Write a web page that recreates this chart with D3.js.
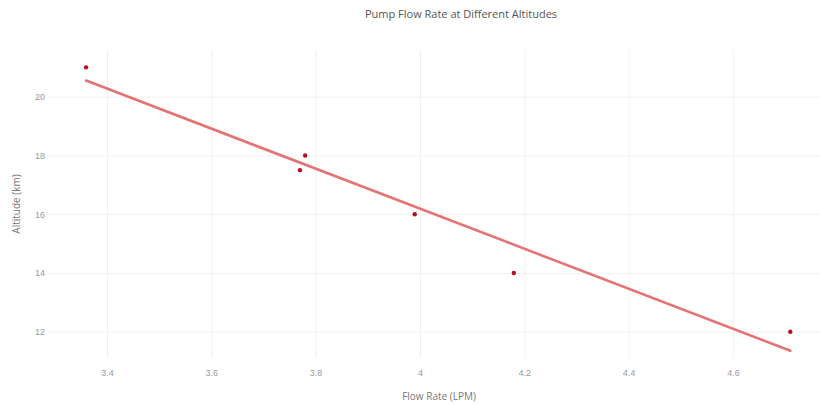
<!DOCTYPE html>
<html>
<head>
<meta charset="utf-8">
<script src="https://cdn.jsdelivr.net/npm/d3@7"></script>
<style>
  html, body { margin: 0; padding: 0; background: #fff; }
  svg { display: block; font-family: "Open Sans", sans-serif; }
</style>
</head>
<body>
<svg id="chart" width="820" height="405"></svg>
<script>
// ---- data ----
const flowRate = [3.36, 3.77, 3.78, 3.99, 4.18, 4.71];
const altitude = [21, 17.5, 18, 16, 14, 12];
const trendFlow = [3.36, 4.71];
const trendAltitude = [20.55, 11.35];
const xTicks = [3.4, 3.6, 3.8, 4, 4.2, 4.4, 4.6];
const yTicks = [12, 14, 16, 18, 20];
const titleText = "Pump Flow Rate at Different Altitudes";
const xTitle = "Flow Rate (LPM)";
const yTitle = "Altitude (km)";

// ---- layout ----
const W = 820, H = 405;
const plot = { left: 48, right: 831, top: 50, bottom: 358 };

const svg = d3.select("#chart");

const x = d3.scaleLinear().domain([3.287, 4.788]).range([plot.left, plot.right]);
const y = d3.scaleLinear().domain([11.105, 21.59]).range([plot.bottom, plot.top]);

// gridlines
const gx = svg.append("g").attr("transform", `translate(0,${plot.bottom})`)
  .call(d3.axisBottom(x).tickValues(xTicks).tickSize(-(plot.bottom - plot.top)).tickFormat(d => d3.format("")(d)).tickPadding(12));
gx.select(".domain").remove();
gx.selectAll(".tick line").attr("stroke", "#f0f0f0").attr("stroke-width", 1);
gx.selectAll(".tick text").attr("fill", "#999").attr("font-size", "9px");

const gy = svg.append("g").attr("transform", `translate(${plot.left},0)`)
  .call(d3.axisLeft(y).tickValues(yTicks).tickSize(-(plot.right - plot.left)).tickPadding(3));
gy.select(".domain").remove();
gy.selectAll(".tick line").attr("stroke", "#f0f0f0").attr("stroke-width", 1);
gy.selectAll(".tick text").attr("fill", "#999").attr("font-size", "9px");

// trend line
const line = d3.line().x((d, i) => x(trendFlow[i])).y(d => y(d));
svg.append("path")
  .datum(trendAltitude)
  .attr("d", line)
  .attr("fill", "none")
  .attr("stroke", "#e57373")
  .attr("stroke-width", 2.6)
  .attr("stroke-linecap", "round");

// points
svg.append("g").selectAll("circle")
  .data(flowRate)
  .join("circle")
  .attr("cx", d => x(d))
  .attr("cy", (d, i) => y(altitude[i]))
  .attr("r", 2.2)
  .attr("fill", "#b5111b");

// titles
svg.append("text")
  .attr("x", 461).attr("y", 18)
  .attr("text-anchor", "middle")
  .attr("font-size", "11px")
  .attr("fill", "#555")
  .text(titleText);

svg.append("text")
  .attr("x", 439).attr("y", 400)
  .attr("text-anchor", "middle")
  .attr("font-size", "10px")
  .attr("fill", "#777")
  .text(xTitle);

svg.append("text")
  .attr("transform", `translate(20,${(plot.top + plot.bottom) / 2}) rotate(-90)`)
  .attr("text-anchor", "middle")
  .attr("font-size", "10px")
  .attr("fill", "#777")
  .text(yTitle);
</script>
</body>
</html>
